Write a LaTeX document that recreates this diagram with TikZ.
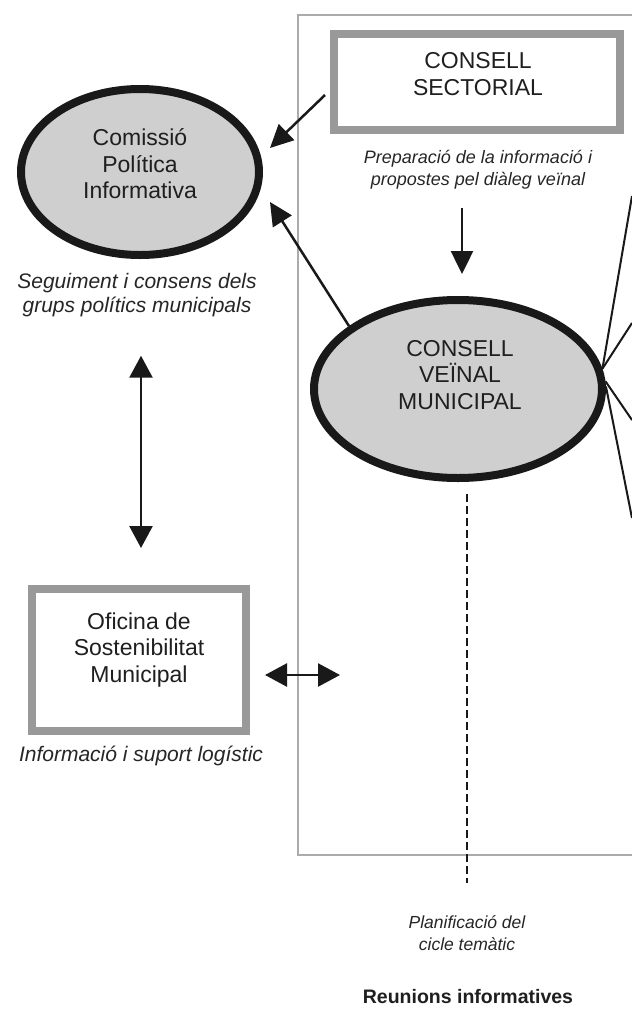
\documentclass[tikz,border=0pt]{standalone}
\usepackage{fontspec}
\setmainfont{Liberation Sans}
\usetikzlibrary{shapes.geometric,arrows.meta,calc}
\begin{document}
\begin{tikzpicture}[x=1pt,y=-1pt,
  ttl/.style={font=\fontsize{23}{26.5}\selectfont, align=center, inner sep=0pt, text=black!88},
  captxt/.style={font=\itshape\fontsize{21}{23.5}\selectfont, align=center, inner sep=0pt, text=black!85},
  oval/.style={ellipse, draw=black!90, line width=8pt, fill=black!19, inner sep=0pt},
  gbox/.style={rectangle, draw=black!40, line width=8pt, fill=white, inner sep=0pt},
  arr/.style={line width=2.5pt, draw=black!90, -{Triangle[length=23pt,width=22pt]}},
  darr/.style={line width=2.5pt, draw=black!90, {Triangle[length=22pt,width=23pt]}-{Triangle[length=22pt,width=23pt]}},
  ray/.style={line width=2pt, draw=black!90},
  frame/.style={draw=black!33, line width=2pt},
  dashline/.style={line width=2pt, draw=black!90, dash pattern=on 8pt off 4pt}]
\useasboundingbox (0,0) rectangle (632,1010);
\fill[white] (0,0) rectangle (632,1010);
\clip (0,0) rectangle (632,1010);

% outer frame (open to the right)
\draw[frame] (640,15) -- (298,15) -- (298,855) -- (640,855);

% Consell sectorial
\node[gbox, minimum width=286pt, minimum height=96pt] (cs) at (477,82) {};
\node[ttl] (cst) at (478,74) {CONSELL\\SECTORIAL};
\node[captxt, font=\itshape\fontsize{18}{22}\selectfont] (csc) at (478,170) {Preparació de la informació i\\propostes pel diàleg veïnal};

% Comissio politica
\node[oval, minimum width=238pt, minimum height=166pt] (cpi) at (140,172) {};
\node[ttl] (cpit) at (140,164) {Comissió\\Política\\Informativa};
\node[captxt] (cpic) at (137,295) {Seguiment i consens dels\\grups polítics municipals};

% Consell veinal
\node[oval, minimum width=288pt, minimum height=178pt] (cvm) at (458,389) {};
\node[ttl] (cvmt) at (460,375) {CONSELL\\VEÏNAL\\MUNICIPAL};

% Oficina
\node[gbox, minimum width=214pt, minimum height=142pt] (osm) at (139,660) {};
\node[ttl] (osmt) at (139,650) {Oficina de\\Sostenibilitat\\Municipal};
\node[captxt, anchor=base] (osmc) at (141,761) {Informació i suport logístic};

% bottom texts
\node[captxt, font=\itshape\fontsize{17.5}{22.5}\selectfont] (plan) at (467,933) {Planificació del\\cicle temàtic};
\node[font=\bfseries\fontsize{19.5}{22}\selectfont, anchor=base, inner sep=0pt, text=black!88] (reu) at (468,1003) {Reunions informatives};

% connectors
\draw[arr] ($(cs.west)+(-5,13)$) -- ($(cpi.center)+(130,-24)$);
\draw[arr] (cvm.150) -- ($(cpi.center)+(130,30)$);
\draw[arr] ($(csc.south)+(-16,18)$) -- ($(cvm.north)+(4,-22)$);
\draw[darr] ($(cpic.south)+(4,39)$) -- ($(osm.north)+(2,-37)$);
\draw[darr] ($(osm.east)+(15,15)$) -- ($(osm.east)+(90,15)$);

\coordinate (dashend) at (467,883);
\draw[dashline] ($(cvm.south)+(9,12)$) -- (dashend);

\coordinate (r1) at (632,196);
\coordinate (r2) at (632,323);
\coordinate (r3) at (632,420);
\coordinate (r4) at (632,518);
\draw[ray] (cvm.8) -- (r1);
\draw[ray] (cvm.8) -- (r2);
\draw[ray] (cvm.3) -- (r3);
\draw[ray] (cvm.1) -- (r4);
\end{tikzpicture}
\end{document}
